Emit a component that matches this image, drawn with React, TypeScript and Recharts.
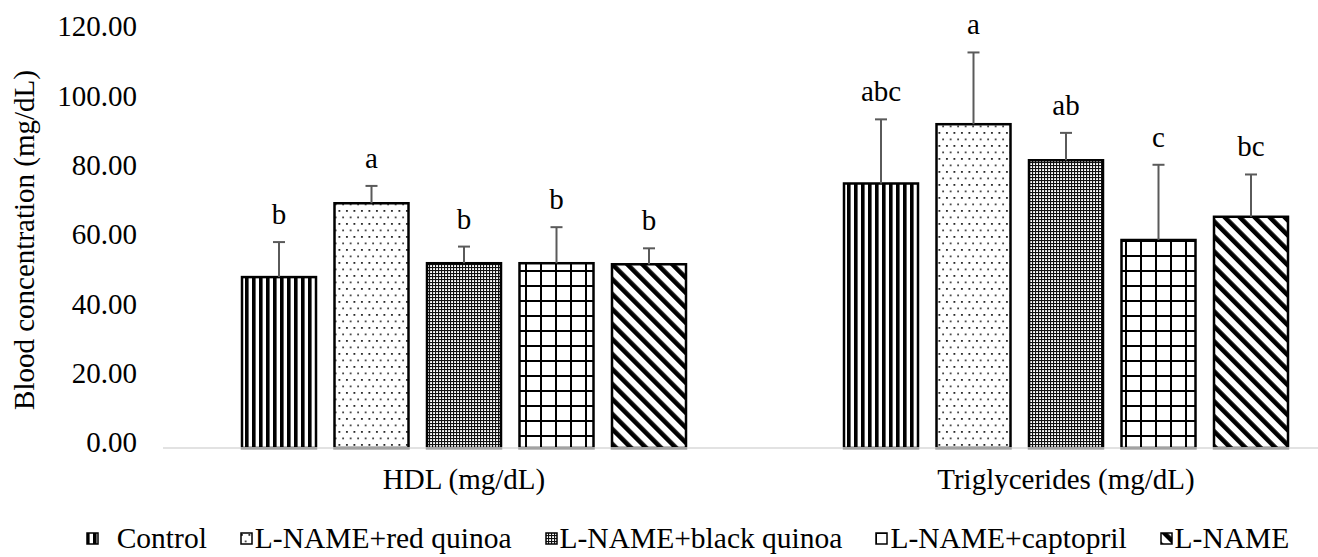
import React from 'react';
import { BarChart, Bar, XAxis, YAxis, Legend } from 'recharts';

const categories = ['HDL (mg/dL)', 'Triglycerides (mg/dL)'];
const seriesNames = ['Control', 'L-NAME+red quinoa', 'L-NAME+black quinoa', 'L-NAME+captopril', 'L-NAME'];

const controlMeans = [49.3, 76.3];
const controlSd = [10.1, 18.5];
const controlLetters = ['b', 'abc'];

const redQuinoaMeans = [70.6, 93.4];
const redQuinoaSd = [5.0, 20.7];
const redQuinoaLetters = ['a', 'a'];

const blackQuinoaMeans = [53.3, 83.0];
const blackQuinoaSd = [4.8, 7.9];
const blackQuinoaLetters = ['b', 'ab'];

const captoprilMeans = [53.3, 60.0];
const captoprilSd = [10.4, 21.7];
const captoprilLetters = ['b', 'c'];

const lNameMeans = [53.0, 66.7];
const lNameSd = [4.6, 12.2];
const lNameLetters = ['b', 'bc'];

const yTicks = [0, 20, 40, 60, 80, 100, 120];

const FONT = '"Liberation Serif", "Times New Roman", serif';
const patternIds = ['pat-vert', 'pat-dots', 'pat-dense', 'pat-grid', 'pat-diag'];

const series = [
  { means: controlMeans, sd: controlSd, letters: controlLetters },
  { means: redQuinoaMeans, sd: redQuinoaSd, letters: redQuinoaLetters },
  { means: blackQuinoaMeans, sd: blackQuinoaSd, letters: blackQuinoaLetters },
  { means: captoprilMeans, sd: captoprilSd, letters: captoprilLetters },
  { means: lNameMeans, sd: lNameSd, letters: lNameLetters },
];

const data = categories.map((name, i) => {
  const row: Record<string, any> = { name };
  series.forEach((s, k) => {
    row[`s${k}`] = s.means[i];
    row[`s${k}_sd`] = s.sd[i];
    row[`s${k}_sig`] = s.letters[i];
  });
  return row;
});

// bar with pattern fill, plus-only error bar and significance letter
const makeShape = (k: number) => (props: any) => {
  const { x, y, width, height, payload, value } = props;
  const v = Array.isArray(value) ? value[1] - value[0] : value;
  const perUnit = v ? height / v : 0;
  const top = y - payload[`s${k}_sd`] * perUnit;
  const cx = x + width / 2;
  return (
    <g>
      <rect x={x} y={y} width={width} height={height} fill={`url(#${patternIds[k]})`} stroke="#000" strokeWidth={2.5} />
      <line x1={cx} x2={cx} y1={y} y2={top} stroke="#5a5a5a" strokeWidth={2} />
      <line x1={cx - 6} x2={cx + 6} y1={top} y2={top} stroke="#5a5a5a" strokeWidth={2} />
      <text x={cx} y={top - 18} textAnchor="middle" fontSize={29} fontFamily={FONT} fill="#000">
        {payload[`s${k}_sig`]}
      </text>
    </g>
  );
};

const Patterns = () => (
  <defs>
    <pattern id="pat-vert" patternUnits="userSpaceOnUse" width={7} height={10}>
      <rect width={7} height={10} fill="#fff" />
      <rect width={3.6} height={10} fill="#000" />
    </pattern>
    <pattern id="pat-dots" patternUnits="userSpaceOnUse" width={7.5} height={13}>
      <rect width={7.5} height={13} fill="#fff" />
      <rect x={1} y={2} width={1.8} height={1.8} fill="#222" />
      <rect x={4.75} y={8.5} width={1.8} height={1.8} fill="#444" />
    </pattern>
    <pattern id="pat-dense" patternUnits="userSpaceOnUse" width={3} height={3}>
      <rect width={3} height={3} fill="#fff" />
      <rect width={3} height={1.1} fill="#111" />
      <rect width={1.1} height={3} fill="#111" />
    </pattern>
    <pattern id="pat-grid" patternUnits="userSpaceOnUse" width={15} height={15}>
      <rect width={15} height={15} fill="#fff" />
      <rect width={15} height={2} fill="#000" />
      <rect width={2} height={15} fill="#000" />
    </pattern>
    <pattern id="pat-diag" patternUnits="userSpaceOnUse" width={10.6} height={10.6} patternTransform="rotate(-45)">
      <rect width={10.6} height={10.6} fill="#fff" />
      <rect width={4.6} height={10.6} fill="#000" />
    </pattern>
  </defs>
);

const LegendContent = () => (
  <div
    style={{
      display: 'flex',
      justifyContent: 'center',
      alignItems: 'center',
      height: 36,
      fontFamily: FONT,
      fontSize: 29.5,
      color: '#000',
      whiteSpace: 'nowrap',
    }}
  >
    {seriesNames.map((name, k) => (
      <div key={name} style={{ display: 'flex', alignItems: 'center', marginLeft: k === 0 ? 0 : 33 }}>
        <svg width={13} height={13} style={{ marginRight: k === 0 ? 18 : 2 }}>
          <rect x={1} y={1} width={11} height={11} fill={`url(#${patternIds[k]})`} stroke="#000" strokeWidth={1.5} />
        </svg>
        <span>{name}</span>
      </div>
    ))}
  </div>
);

export default function App() {
  return (
    <div
      style={{
        position: 'absolute',
        left: 0,
        top: 0,
        width: 1318,
        height: 557,
        overflow: 'hidden',
        background: '#fff',
      }}
    >
      <BarChart
        width={1380}
        height={557}
        data={data}
        margin={{ top: 32, right: 13, bottom: 13, left: 0 }}
        barCategoryGap={79}
        barGap={18.5}
      >
        <Patterns />
        <XAxis
          dataKey="name"
          tickLine={false}
          axisLine={{ stroke: '#d9d9d9', strokeWidth: 1.5 }}
          tickMargin={14}
          height={60}
          tick={{ fontSize: 29, fill: '#000', fontFamily: FONT }}
        />
        <YAxis
          width={163}
          domain={[0, 120]}
          ticks={yTicks}
          interval={0}
          tickFormatter={(v: number) => v.toFixed(2)}
          tickLine={false}
          axisLine={false}
          tickMargin={20}
          tick={{ fontSize: 29, fill: '#000', fontFamily: FONT, dy: -6 }}
          label={{
            value: 'Blood concentration (mg/dL)',
            angle: -90,
            position: 'insideLeft',
            offset: 24,
            style: { textAnchor: 'middle', fontSize: 29, fill: '#000', fontFamily: FONT },
          }}
        />
        <Legend content={<LegendContent />} wrapperStyle={{ left: 0, width: 1375, top: 520 }} />
        {seriesNames.map((name, k) => (
          <Bar key={name} dataKey={`s${k}`} name={name} shape={makeShape(k)} isAnimationActive={false} />
        ))}
      </BarChart>
    </div>
  );
}
